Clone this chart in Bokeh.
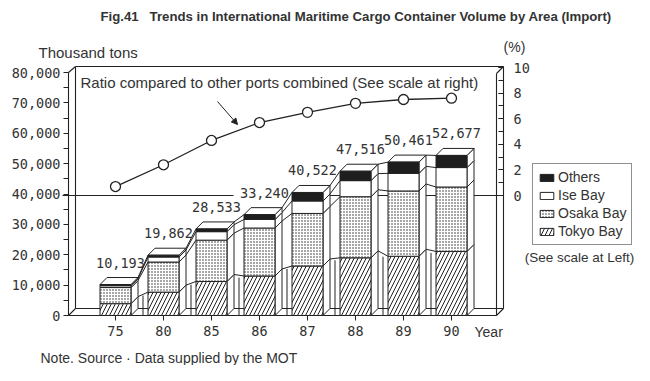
import numpy as np
from bokeh.plotting import figure
from bokeh.core.properties import value
from bokeh.models import (Range1d, LinearAxis, FixedTicker, ColumnDataSource, Legend,
                          LegendItem, Label, LabelSet, Arrow, NormalHead)
from bokeh.embed import file_html
from bokeh.resources import INLINE

# ---------------- data ----------------
years = ["75", "80", "85", "86", "87", "88", "89", "90"]
tokyo_bay = [3900, 7700, 11200, 13000, 16300, 19000, 19500, 21100]
osaka_bay = [5300, 9900, 13600, 15800, 17300, 20100, 21500, 21200]
ise_bay = [600, 1650, 2800, 2800, 4100, 5300, 5800, 6400]
others = [400, 600, 900, 1600, 2800, 3100, 3700, 4000]
totals = [10193, 19862, 28533, 33240, 40522, 47516, 50461, 52677]
total_labels = ["10,193", "19,862", "28,533", "33,240", "40,522", "47,516", "50,461", "52,677"]
ratio_pct = [0.7, 2.4, 4.3, 5.7, 6.5, 7.2, 7.5, 7.6]
left_ticks = [0, 10000, 20000, 30000, 40000, 50000, 60000, 70000, 80000]
right_ticks = [0, 2, 4, 6, 8, 10]

# ---------------- geometry (screen mapping) ----------------
W, H = 634, 365
X0, Y0, P0 = 115.0, 315.0, 195.0     # screen px of x=0, y=0, pct=0
PXX = 48.0                           # px per category
PXY = 243.0 / 80000.0                # px per thousand-ton unit
PXP = 12.8                           # px per percent
def gx(px): return (px - X0) / PXX          # screen x -> data x
def gy(py): return (Y0 - py) / PXY          # screen y -> left-axis data
def gp(py): return (P0 - py) / PXP          # screen y -> pct data
def ddx(px): return px / PXX
def ddy(px): return px / PXY

FONT = "Liberation Sans"
MONO = "DejaVu Sans Mono"
LC = "#222222"
TC = "#333333"

p = figure(width=W, height=H, output_backend="svg", toolbar_location=None,
           x_range=Range1d(gx(0), gx(W)), y_range=Range1d(gy(H), gy(0)),
           min_border=0)
p.outline_line_color = None
p.grid.visible = False
p.background_fill_color = "white"
p.border_fill_color = "white"
p.extra_y_ranges = {"pct": Range1d(gp(H), gp(0))}

# x axis
idx = list(range(len(years)))
xax = p.xaxis[0]
xax.fixed_location = 0
xax.ticker = FixedTicker(ticks=idx)
xax.major_label_overrides = {i: y for i, y in zip(idx, years)}
xax.minor_tick_line_color = None
xax.major_tick_out = 5
xax.major_tick_in = 0
xax.major_label_text_font = MONO
xax.major_label_text_font_size = "13.5px"
xax.major_label_text_color = TC
xax.axis_line_color = None
xax.major_label_standoff = 5
xax.major_tick_line_color = LC

# left axis
yax = p.yaxis[0]
yax.fixed_location = gx(68)
yax.ticker = FixedTicker(ticks=left_ticks,
                         minor_ticks=[t + 5000 for t in left_ticks[:-1]])
yax.major_label_overrides = {t: f"{t:,}" for t in left_ticks}
yax.major_tick_out = 5
yax.major_tick_in = 0
yax.minor_tick_out = 5
yax.minor_tick_in = 0
yax.axis_line_color = None
yax.major_label_standoff = 3
yax.major_label_text_font = MONO
yax.major_label_text_font_size = "13.5px"
yax.major_label_text_color = TC
yax.major_tick_line_color = LC
yax.minor_tick_line_color = LC

# right axis (percent)
rax = LinearAxis(y_range_name="pct", fixed_location=gx(503),
                 ticker=FixedTicker(ticks=right_ticks, minor_ticks=list(range(0, 11))))
rax.major_tick_in = 5
rax.major_tick_out = 0
rax.minor_tick_in = 5
rax.minor_tick_out = 0
rax.major_label_standoff = 10
rax.major_label_text_font = MONO
rax.major_label_text_font_size = "13.5px"
rax.major_label_text_color = TC
rax.axis_line_color = None
rax.major_tick_line_color = LC
rax.minor_tick_line_color = LC
p.add_layout(rax, "right")

# ---------------- 3D box frame ----------------
L, LB, R, RF = gx(68), gx(75), gx(503), gx(496)
TOP, FLB, BOT, AXT = gy(66), gy(308), 0, 80000
p.segment(x0=[L, L, LB, LB, L, RF, RF, R, LB, L],
          y0=[BOT, AXT, FLB, TOP, BOT, BOT, gy(73), TOP, FLB, BOT],
          x1=[L, LB, LB, R, LB, RF, R, R, R, RF],
          y1=[AXT, TOP, TOP, TOP, FLB, gy(73), TOP, FLB, FLB, BOT],
          line_color=LC, line_width=1.1)
p.segment(x0=[R], y0=[FLB], x1=[RF], y1=[BOT], line_color=LC, line_width=1.1)

# baseline of the percentage scale (broken around the "33,240" label)
p.segment(x0=[gx(62), gx(296)], y0=[0, 0], x1=[gx(233), R], y1=[0, 0], y_range_name="pct",
          line_color=LC, line_width=1.1)

# ---------------- bars ----------------
BW = 31 / PXX
D = 7
layers = [tokyo_bay, osaka_bay, ise_bay, others]
cum = np.cumsum(np.array(layers, dtype=float), axis=0)
bot = np.vstack([np.zeros(len(years)), cum[:-1]])
xs_c = np.array(idx, dtype=float)
xl = xs_c - BW / 2
xr = xs_c + BW / 2
DX, DY = ddx(D), ddy(D)

# connecting ribbon lines between bars (behind)
rx0, ry0, rx1, ry1 = [], [], [], []
for k in range(len(layers)):
    for i in range(len(years) - 1):
        rx0.append(xr[i] + DX); ry0.append(cum[k][i] + DY)
        rx1.append(xl[i + 1]); ry1.append(cum[k][i + 1])
p.segment(x0=rx0, y0=ry0, x1=rx1, y1=ry1, line_color=LC, line_width=1)
# vertical edges of the ribbon in front of each bar
vx = [xl[i] - ddx(5) for i in range(1, len(years))]
p.segment(x0=vx, y0=[0] * len(vx), x1=vx,
          y1=[cum[0][i - 1] + (cum[0][i] - cum[0][i - 1]) * 0.7 for i in range(1, len(years))],
          line_color=LC, line_width=1)

# side faces
sx, sy = [], []
for k in range(len(layers)):
    for i in range(len(years)):
        b, t = bot[k][i], cum[k][i]
        sx.append([xr[i], xr[i] + DX, xr[i] + DX, xr[i]])
        sy.append([b, b + DY, t + DY, t])
p.patches(sx, sy, fill_color="white", line_color=LC, line_width=1)
# top faces
tx, ty = [], []
for i in range(len(years)):
    T = cum[-1][i]
    tx.append([xl[i], xl[i] + DX, xr[i] + DX, xr[i]])
    ty.append([T, T + DY, T + DY, T])
p.patches(tx, ty, fill_color="white", line_color=LC, line_width=1)

src = ColumnDataSource(dict(x=idx, tokyo=tokyo_bay, osaka=osaka_bay, ise=ise_bay, others=others))
rs = p.vbar_stack(["tokyo", "osaka", "ise", "others"], x="x", width=BW, source=src,
                  fill_color=["white", "white", "white", "#1e1e1e"],
                  line_color=LC, line_width=1,
                  hatch_pattern=["right_diagonal_line", "dot", " ", " "],
                  hatch_scale=[8, 3, 1, 1], hatch_weight=[1, 1.1, 1, 1],
                  hatch_color=LC)

# total labels
lab_src = ColumnDataSource(dict(x=[v + ddx(5) for v in xs_c],
                                y=[t + ddy(22) for t in totals],
                                text=total_labels))
p.add_layout(LabelSet(x="x", y="y", text="text", source=lab_src, text_align="center",
                      text_baseline="middle", text_font=value(MONO), text_font_size="13.5px",
                      text_color=TC))

# ---------------- ratio line ----------------
p.line(idx, ratio_pct, y_range_name="pct", line_color=LC, line_width=1.3)
p.scatter(idx, ratio_pct, y_range_name="pct", marker="circle", size=10,
          fill_color="white", line_color=LC, line_width=1.3)

p.add_layout(Label(x=gx(80), y=gp(82), y_range_name="pct",
                   text="Ratio compared to other ports combined (See scale at right)",
                   text_font=FONT, text_font_size="15px", text_color=TC,
                   text_baseline="middle", text_align="left"))
p.add_layout(Arrow(x_start=gx(217), y_start=gp(101), x_end=gx(237), y_end=gp(124),
                   y_range_name="pct", line_color=LC, line_width=1,
                   end=NormalHead(size=6, fill_color=LC, line_color=LC)))

# ---------------- legend ----------------
legend = Legend(items=[LegendItem(label="Others", renderers=[rs[3]]),
                       LegendItem(label="Ise Bay", renderers=[rs[2]]),
                       LegendItem(label="Osaka Bay", renderers=[rs[1]]),
                       LegendItem(label="Tokyo Bay", renderers=[rs[0]])],
                location=(532, H - 245), orientation="vertical",
                label_text_font=FONT, label_text_font_size="14px", label_text_color=TC,
                glyph_width=17, glyph_height=9, label_height=16, label_standoff=3,
                spacing=2, padding=5, margin=0,
                border_line_color=LC, border_line_width=1, background_fill_alpha=1)
p.add_layout(legend)

# ---------------- free texts ----------------
def txt(x, y, s, size="14px", style="normal", align="left", font=FONT):
    p.add_layout(Label(x=x, y=y, text=s, text_font=font, text_font_size=size,
                       text_font_style=style, text_align=align, text_baseline="middle",
                       text_color=TC))

txt(gx(100), gy(16),
    "Fig.41\u00a0\u00a0\u00a0Trends in International Maritime Cargo Container Volume by Area (Import)",
    size="13.2px", style="bold")
txt(gx(38), gy(52), "Thousand tons", size="15px")
txt(gx(514), gy(46), "(%)", align="center")
txt(gx(474), gy(331), "Year")
txt(gx(579), gy(257), "(See scale at Left)", size="13.5px", align="center")
txt(gx(40), gy(357), "Note. Source · Data supplied by the MOT")

open("out.html", "w").write(file_html(p, INLINE))
